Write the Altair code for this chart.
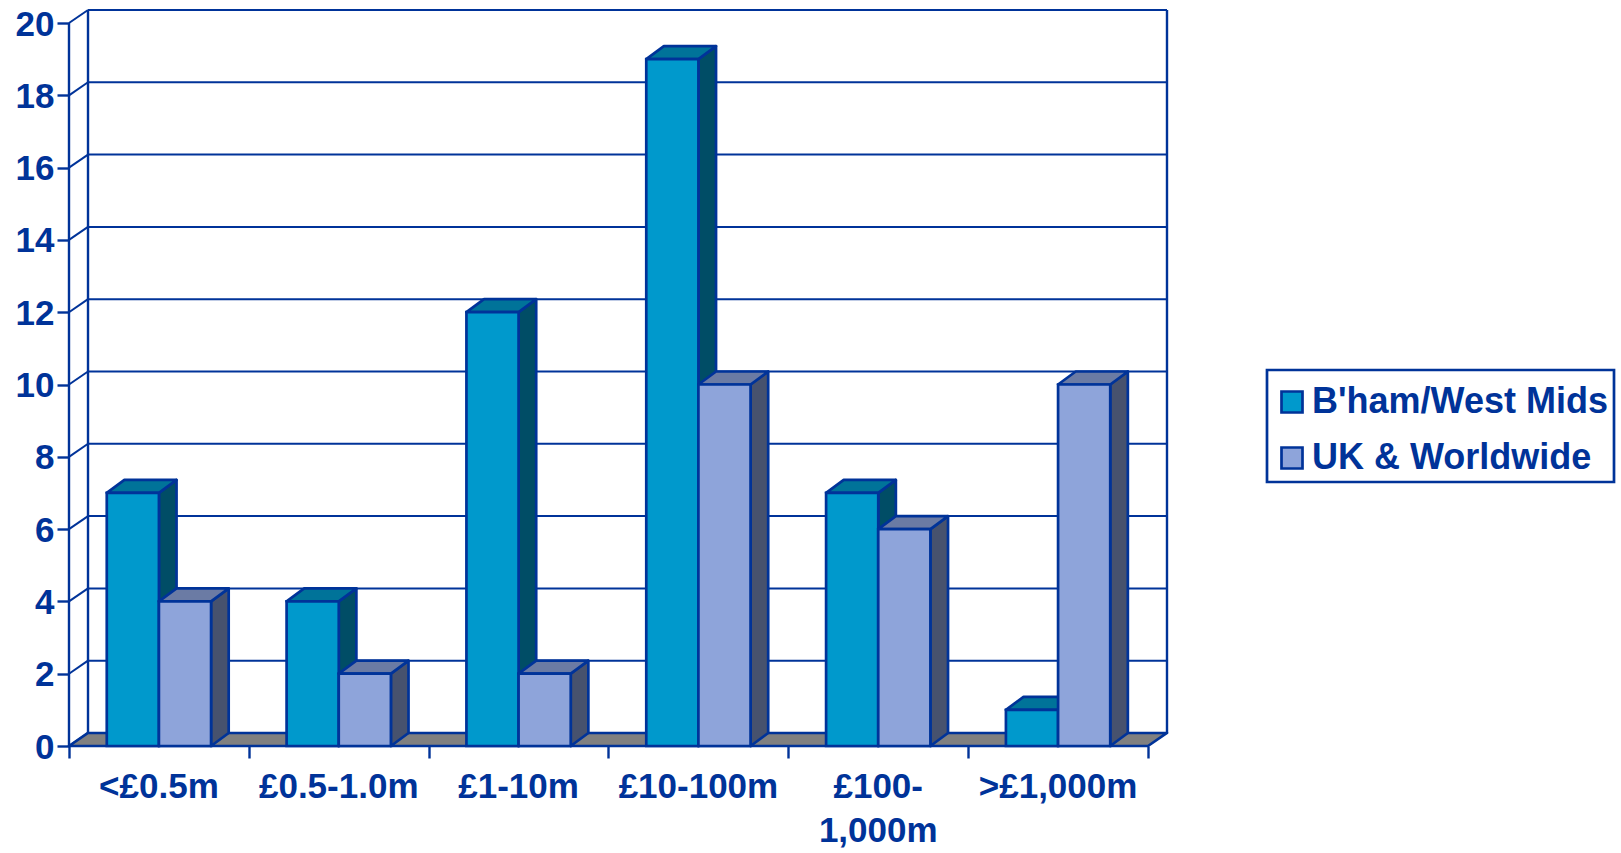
import altair as alt
import pandas as pd

categories = ["<£0.5m", "£0.5-1.0m", "£1-10m", "£10-100m", "£100-\n1,000m", ">£1,000m"]
series_names = ["B'ham/West Mids", "UK & Worldwide"]
west_mids = [7, 4, 12, 19, 7, 1]
worldwide = [4, 2, 2, 10, 6, 10]
y_ticks = list(range(0, 21, 2))

INK = "#003399"
FRONT = ["#0099CC", "#8EA4DA"]
SIDE = ["#004D66", "#47526E"]
TOP = ["#007399", "#6B7BA4"]
FLOOR = "#808080"
EDGE = 2.7

# Oblique projection: the depth of the box, in axis units of each scale
DEPTH_X = 0.1057
DEPTH_Y = 0.36
BAR_DEPTH_X = 0.098
BAR_W = 0.29
BAR_GAP = (1 - 2 * BAR_W) / 2
N = len(categories)

X = alt.Scale(domain=[0, N + DEPTH_X], nice=False, zero=False)
Y = alt.Scale(domain=[0, 20 + DEPTH_Y], nice=False, zero=False)

# Ticks only along the front edge of the box
X_AXIS = alt.Axis(
    values=list(range(N + 1)), labels=False, domain=False, grid=False,
    tickColor=INK, tickWidth=2.4, tickSize=12,
)
Y_AXIS = alt.Axis(
    values=y_ticks, domain=False, grid=False, tickColor=INK, tickWidth=2.4, tickSize=12,
    labelColor=INK, labelFont="Liberation Sans", labelFontWeight="bold", labelFontSize=35,
    labelPadding=3, labelOverlap=False, labelOffset=1,
)


def xq(field):
    return alt.X(field, type="quantitative", scale=X, axis=X_AXIS, title=None)


def yq(field):
    return alt.Y(field, type="quantitative", scale=Y, axis=Y_AXIS, title=None, stack=None)


# Back wall and its grid
grid_df = pd.DataFrame({"x": DEPTH_X, "x2": N + DEPTH_X, "y": [v + DEPTH_Y for v in y_ticks if v > 0]})
grid = alt.Chart(grid_df).mark_rule(color=INK, strokeWidth=2).encode(
    x=xq("x"), x2="x2", y=yq("y")
)

slant_df = pd.DataFrame(
    [{"tick": v, "x": 0.0, "y": v} for v in y_ticks] + [{"tick": v, "x": DEPTH_X, "y": v + DEPTH_Y} for v in y_ticks]
)
slants = alt.Chart(slant_df).mark_line(color=INK, strokeWidth=2).encode(
    x=xq("x"), y=yq("y"), detail="tick:N"
)

wall_df = pd.DataFrame(
    {"x": [DEPTH_X, N + DEPTH_X, 0.0], "y": [DEPTH_Y, DEPTH_Y, 0.0], "y2": [20 + DEPTH_Y, 20 + DEPTH_Y, 20.0]}
)
walls = alt.Chart(wall_df).mark_rule(color=INK, strokeWidth=2.4).encode(
    x=xq("x"), y=yq("y"), y2="y2"
)

# Floor of the box
floor_df = pd.DataFrame(
    {"y": [0.0, DEPTH_Y], "x": [0.0, DEPTH_X], "x2": [float(N), N + DEPTH_X]}
)
floor = alt.Chart(floor_df).mark_area(
    orient="horizontal", fill=FLOOR, stroke=INK, strokeWidth=EDGE, strokeJoin="round"
).encode(y=yq("y"), x=xq("x"), x2="x2")

bar_layers = []
for s, (name, values) in enumerate(zip(series_names, [west_mids, worldwide])):
    fronts, sides, tops = [], [], []
    for c, v in enumerate(values):
        x0 = c + BAR_GAP + s * BAR_W
        x1 = x0 + BAR_W
        fronts.append({"series": name, "x": x0, "x2": x1, "y": v, "y2": 0})
        sides.append({"id": c, "x": x1, "y": v, "y2": 0.0})
        sides.append({"id": c, "x": x1 + BAR_DEPTH_X, "y": v + DEPTH_Y, "y2": DEPTH_Y})
        tops.append({"id": c, "y": v, "x": x0, "x2": x1})
        tops.append({"id": c, "y": v + DEPTH_Y, "x": x0 + BAR_DEPTH_X, "x2": x1 + BAR_DEPTH_X})
    side = alt.Chart(pd.DataFrame(sides)).mark_area(
        fill=SIDE[s], stroke=INK, strokeWidth=EDGE, strokeJoin="round"
    ).encode(x=xq("x"), y=yq("y"), y2="y2", detail="id:N")
    top = alt.Chart(pd.DataFrame(tops)).mark_area(
        orient="horizontal", fill=TOP[s], stroke=INK, strokeWidth=EDGE, strokeJoin="round"
    ).encode(y=yq("y"), x=xq("x"), x2="x2", detail="id:N")
    front = alt.Chart(pd.DataFrame(fronts)).mark_rect(stroke=INK, strokeWidth=EDGE).encode(
        x=xq("x"),
        x2="x2",
        y=yq("y"),
        y2="y2",
        color=alt.Color(
            "series:N",
            scale=alt.Scale(domain=series_names, range=FRONT),
            legend=alt.Legend(
                # A blank title pushes the entries down inside the frame
                title=" ",
                titleFontSize=8,
                titlePadding=0,
                orient="none",
                legendX=1198,
                legendY=360,
                direction="vertical",
                fillColor="white",
                strokeColor=INK,
                padding=6,
                labelColor=INK,
                labelFont="Liberation Sans",
                labelFontWeight="bold",
                labelFontSize=36,
                labelLimit=400,
                labelOffset=2,
                rowPadding=20,
                symbolType="square",
                symbolSize=441,
                symbolOffset=1,
                symbolStrokeColor=INK,
                symbolStrokeWidth=2.7,
                symbolOpacity=1,
            ),
        ),
    )
    bar_layers += [side, top, front]

# Category names centred under each slot
label_df = pd.DataFrame({"x": [i + 0.5 for i in range(N)], "y": 0.0, "label": categories})
labels = alt.Chart(label_df).mark_text(
    font="Liberation Sans", fontWeight="bold", fontSize=35, color=INK,
    baseline="middle", dy=41, lineBreak="\n", lineHeight=44,
).encode(x=xq("x"), y=yq("y"), text="label:N")

chart = (
    alt.layer(grid, walls, slants, floor, *bar_layers, labels)
    .properties(
        width=1098,
        height=736,
        padding={"left": 69, "top": 10, "right": 454, "bottom": 107},
        autosize=alt.AutoSizeParams(type="none"),
        background="white",
    )
    .configure_view(stroke=None)
    .configure_legend(strokeWidth=2.7)
)

chart.save("out.html", embed_options={"renderer": "svg", "actions": False})
